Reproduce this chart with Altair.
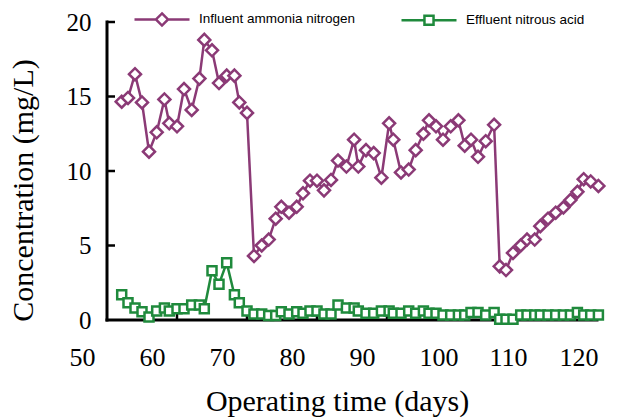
import altair as alt
import pandas as pd

# ---- data ----
days = [52.1, 53.0, 54.0, 55.0, 56.0, 57.1, 58.2, 58.9, 60.0, 61.0, 62.1, 63.2, 63.9, 65.0, 66.0,
        67.1, 68.2, 68.9, 70.0, 71.0, 72.1, 73.1, 74.1, 74.9, 76.0, 77.1, 78.0, 79.0, 80.0, 81.0,
        82.0, 83.0, 84.2, 85.3, 85.9, 87.0, 88.1, 89.2, 90.3, 90.9, 92.0, 93.1, 94.1, 95.2, 96.0,
        97.0, 98.0, 99.1, 100.2, 101.1, 102.0, 103.0, 104.1, 105.3, 106.1, 107.0, 108.0, 109.1,
        110.0, 111.1, 111.9, 113.0, 114.1, 115.2, 116.2, 117.2, 118.1, 119.1, 120.2]

ammonia = [14.65, 14.9, 16.5, 14.6, 11.3, 12.6, 14.8, 13.2, 13.0, 15.5, 14.1, 16.2, 18.8, 18.1, 15.9,
           16.4, 16.4, 14.6, 13.9, 4.3, 5.0, 5.4, 6.8, 7.6, 7.2, 7.6, 8.5, 9.35, 9.35, 8.7,
           9.4, 10.7, 10.3, 12.1, 10.3, 11.4, 11.2, 9.55, 13.2, 12.1, 9.9, 10.1, 11.4, 12.5, 13.4,
           13.0, 12.1, 13.0, 13.4, 11.7, 12.1, 10.95, 12.0, 13.1, 3.6, 3.35, 4.5, 5.0,
           5.4, 5.4, 6.3, 6.8, 7.2, 7.55, 8.05, 8.6, 9.45, 9.3, 9.0]

nitrous = [1.7, 1.15, 0.8, 0.55, 0.2, 0.6, 0.8, 0.6, 0.75, 0.75, 1.0, 1.0, 0.75, 3.3, 2.4,
           3.85, 1.7, 1.15, 0.6, 0.4, 0.4, 0.3, 0.3, 0.55, 0.4, 0.55, 0.45, 0.6, 0.6, 0.4,
           0.4, 1.0, 0.8, 0.8, 0.6, 0.45, 0.45, 0.6, 0.6, 0.45, 0.45, 0.6, 0.45, 0.6, 0.45,
           0.45, 0.33, 0.33, 0.33, 0.33, 0.5, 0.5, 0.33, 0.5, 0.05, 0.05, 0.05, 0.33,
           0.33, 0.33, 0.33, 0.33, 0.33, 0.33, 0.33, 0.5, 0.33, 0.33, 0.33]

series_names = ["Influent ammonia nitrogen", "Effluent nitrous acid"]
x_label_values = [50, 60, 70, 80, 90, 100, 110, 120]
y_label_values = [0, 5, 10, 15, 20]
x_tick_values = [60, 70, 80, 90, 100, 110, 120]
y_tick_values = [5, 10, 15, 20]
x_range = [50, 120]
y_range = [0, 20]

PURPLE = "#8B3A76"
GREEN = "#1F8A3C"
AXIS = "#000000"

df = pd.DataFrame({
    "day": days * 2,
    "value": ammonia + nitrous,
    "series": [series_names[0]] * len(days) + [series_names[1]] * len(days),
})

x_enc = alt.X("day:Q",
              scale=alt.Scale(domain=x_range, nice=False, zero=False),
              axis=alt.Axis(values=x_label_values, title="Operating time (days)",
                            domain=False, ticks=False,
                            labelPadding=24, labelFontSize=26, labelFlush=False,
                            labelOverlap=False, labelAlign="left", labelOffset=-38,
                            titleX=230, titleY=81,
                            titleAlign="center", titleBaseline="middle"))
y_enc = alt.Y("value:Q",
              scale=alt.Scale(domain=y_range, nice=False),
              axis=alt.Axis(values=y_label_values, title="Concentration (mg/L)",
                            domain=False, ticks=False,
                            labelPadding=16, labelFlush=False, titleX=-84, titleY=168,
                            titleAngle=-90, titleAlign="center", titleBaseline="middle"))

diamond_path = "M-1,0L-0.22,0M0.22,0L1,0M0,-0.22L0.22,0L0,0.22L-0.22,0Z"
square_path = "M-1,0L-0.165,0M0.165,0L1,0M-0.165,-0.165L0.165,-0.165L0.165,0.165L-0.165,0.165Z"
sym_expr = ("datum.value === '" + series_names[0] + "' ? '" + diamond_path + "' : '" + square_path + "'")

# axis lines drawn as line marks through the scales
x_axis_line = alt.Chart(pd.DataFrame({"day": x_range, "value": [y_range[0], y_range[0]]})).mark_line(
    color=AXIS, strokeWidth=3, strokeCap="square").encode(x=x_enc, y=y_enc)
y_axis_line = alt.Chart(pd.DataFrame({"day": [x_range[0], x_range[0]], "value": y_range})).mark_line(
    color=AXIS, strokeWidth=3, strokeCap="square").encode(x=x_enc, y=y_enc)

# inward tick marks
x_ticks = alt.Chart(pd.DataFrame({"day": x_tick_values})).mark_tick(
    color=AXIS, orient="vertical", size=8, thickness=2.5, opacity=1).encode(
    x=x_enc, y=alt.value(294))
y_ticks = alt.Chart(pd.DataFrame({"value": y_tick_values})).mark_tick(
    color=AXIS, orient="horizontal", size=8, thickness=2.5, opacity=1).encode(
    y=y_enc, x=alt.value(4))

lines = alt.Chart(df).mark_line(strokeWidth=2.5).encode(
    x=x_enc, y=y_enc,
    color=alt.Color("series:N",
                    scale=alt.Scale(domain=series_names, range=[PURPLE, GREEN]),
                    sort=series_names,
                    legend=alt.Legend(title=None, orient="none", legendX=26, legendY=-32,
                                      direction="horizontal",
                                      symbolType={"expr": sym_expr},
                                      symbolSize=3025, symbolStrokeWidth=2.5,
                                      symbolFillColor="white",
                                      labelFont="Liberation Sans", labelFontSize=13.5,
                                      labelColor="black", labelOffset=8, columnPadding=40)),
)

pts_a = alt.Chart(df).transform_filter(
    alt.datum.series == series_names[0]
).mark_point(shape="diamond", size=144, filled=False, fill="white", opacity=1,
             strokeWidth=2.5, color=PURPLE).encode(x=x_enc, y=y_enc)

pts_b = alt.Chart(df).transform_filter(
    alt.datum.series == series_names[1]
).mark_point(shape="square", size=81, filled=False, fill="white", opacity=1,
             strokeWidth=2.5, color=GREEN).encode(x=x_enc, y=y_enc)

chart = alt.layer(x_axis_line, y_axis_line, x_ticks, y_ticks, lines, pts_a, pts_b).properties(
    width=490, height=298,
    autosize=alt.AutoSizeParams(type="none"),
    padding={"left": 107, "top": 22, "right": 23, "bottom": 100},
    background="white",
).configure_view(stroke=None).configure_axis(
    grid=False,
    labelFont="Liberation Serif", titleFont="Liberation Serif",
    labelColor="black", titleColor="black", titleFontWeight="normal",
    labelFontSize=25, titleFontSize=30,
)

chart.save("out.html", embed_options={"renderer": "svg", "actions": False})
